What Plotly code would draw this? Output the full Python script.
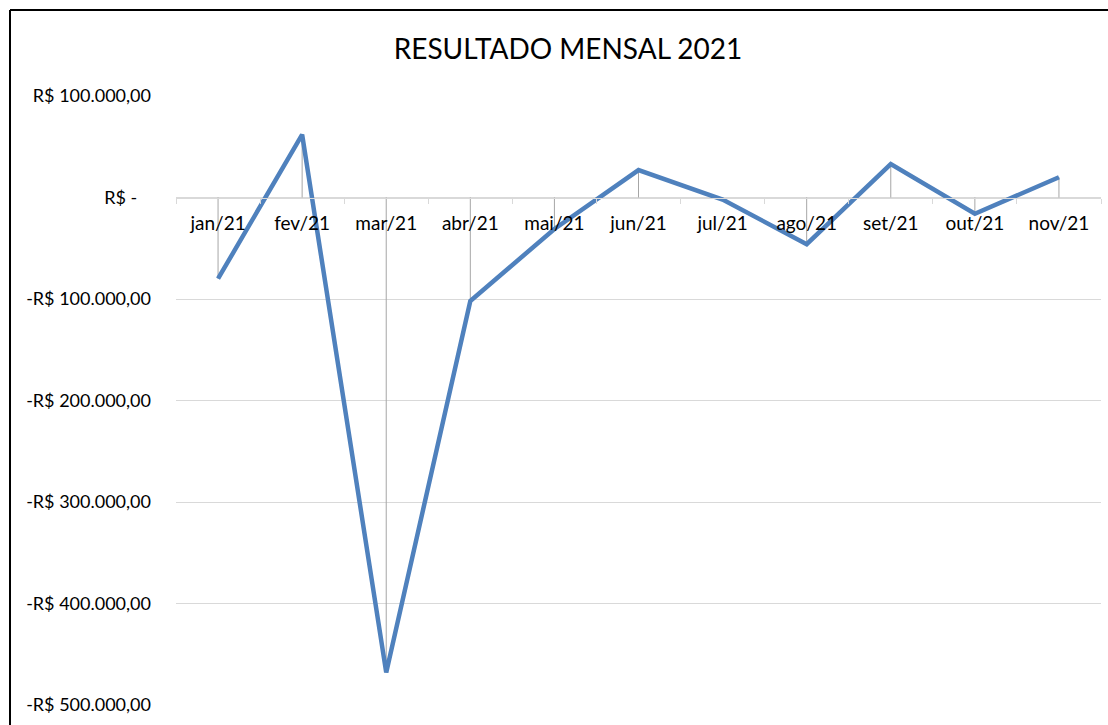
import plotly.graph_objects as go

months = ["jan/21", "fev/21", "mar/21", "abr/21", "mai/21", "jun/21",
          "jul/21", "ago/21", "set/21", "out/21", "nov/21"]
resultado = [-80000, 62000, -468000, -102000, -31000, 27000,
             -2000, -46000, 33000, -16000, 20000]

y_ticks = [100000, 0, -100000, -200000, -300000, -400000, -500000]
y_ticktext = ["R$ 100.000,00", "R$ -   ", "-R$ 100.000,00", "-R$ 200.000,00",
              "-R$ 300.000,00", "-R$ 400.000,00", "-R$ 500.000,00"]

FONT = "Lato"
W, H = 1108, 725
ML, MR, MT, MB = 176, 7, 96, 20
PW, PH = W - ML - MR, H - MT - MB

def px(x):
    return (x - ML) / PW

def py(y):
    return (H - MB - y) / PH

# drop lines from each point to the zero (category) axis
up = [max(-v, 0) for v in resultado]
down = [max(v, 0) for v in resultado]

fig = go.Figure()
fig.add_trace(go.Scatter(
    x=months, y=resultado, mode="markers",
    marker=dict(size=0.1, color="rgba(0,0,0,0)"),
    error_y=dict(type="data", symmetric=False, array=up, arrayminus=down,
                 width=0, thickness=1, color="#A6A6A6"),
    hoverinfo="skip", showlegend=False,
))
fig.add_trace(go.Scatter(
    x=months, y=resultado, mode="lines",
    line=dict(color="#4F81BD", width=4.5),
    showlegend=False, name="Resultado",
))

zero_pos = (0 - (-500000)) / 600000

fig.update_layout(
    width=W, height=H,
    margin=dict(l=ML, r=MR, t=MT, b=MB),
    paper_bgcolor="white", plot_bgcolor="white",
    font=dict(family=FONT, color="black"),
    title=dict(text="RESULTADO MENSAL 2021", x=568 / W, xanchor="center",
               xref="container", y=1 - 49 / H, yanchor="middle", yref="container",
               font=dict(size=28, family=FONT, color="black")),
    xaxis=dict(type="category", anchor="free", position=zero_pos,
               showline=True, linecolor="#D9D9D9", linewidth=1,
               ticks="outside", ticklen=5, tickcolor="#D9D9D9", tickwidth=1,
               tickson="boundaries", showgrid=False, zeroline=False,
               tickfont=dict(size=19, family=FONT, color="black"),
               ticklabelstandoff=9, range=[-0.5, len(months) - 0.5]),
    yaxis=dict(range=[-500000, 100000], tickvals=y_ticks, ticktext=y_ticktext,
               showgrid=True, gridcolor="#D9D9D9", gridwidth=1,
               zeroline=False, showline=False, ticks="",
               tickfont=dict(size=18, family=FONT, color="black"),
               ticklabelstandoff=24),
    shapes=[
        dict(type="line", xref="paper", yref="paper",
             x0=px(10), x1=px(W + 5), y0=py(10), y1=py(10),
             line=dict(color="black", width=2)),
        dict(type="line", xref="paper", yref="paper",
             x0=px(10), x1=px(10), y0=py(10), y1=py(H + 5),
             line=dict(color="black", width=2)),
    ],
)

fig.write_html("out.html",
               config={"displayModeBar": False},
               post_script="document.body.style.margin='0';document.body.style.overflow='hidden';")
